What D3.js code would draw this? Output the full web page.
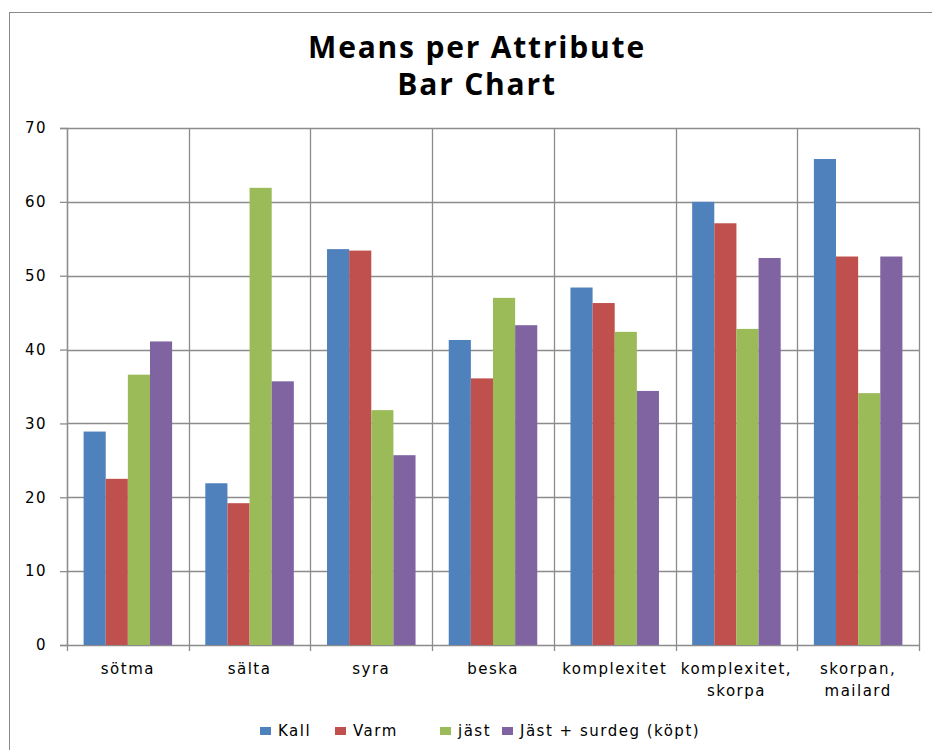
<!DOCTYPE html>
<html>
<head>
<meta charset="utf-8">
<script src="https://cdn.jsdelivr.net/npm/d3@7"></script>
<style>
  html, body { margin: 0; padding: 0; background: #fff; }
  svg { display: block; }
</style>
</head>
<body>
<div id="chart"></div>
<script>
// Attribute categories (x axis); "\n" splits a label over two lines
const categories = ["sötma", "sälta", "syra", "beska", "komplexitet", "komplexitet,\nskorpa", "skorpan,\nmailard"];
// Series names
const seriesNames = ["Kall", "Varm", "jäst", "Jäst + surdeg (köpt)"];
// Mean values per series, one entry per category
const kall  = [28.9, 21.9, 53.6, 41.3, 48.4, 60.0, 65.8];
const varm  = [22.5, 19.2, 53.4, 36.1, 46.3, 57.1, 52.6];
const jast  = [36.6, 61.9, 31.8, 47.0, 42.4, 42.8, 34.1];
const surdeg = [41.1, 35.7, 25.7, 43.3, 34.4, 52.4, 52.6];
const seriesValues = [kall, varm, jast, surdeg];
const seriesColors = ["#4F81BD", "#C0504D", "#9BBB59", "#8064A2"];
// Y axis ticks
const yTicks = [0, 10, 20, 30, 40, 50, 60, 70];
const titleLines = ["Means per Attribute", "Bar Chart"];

const W = 932, H = 750;
const plot = { left: 67, right: 919, top: 128, bottom: 645 };
const labelFont = "'DejaVu Sans', Verdana, sans-serif";

const svg = d3.select("#chart").append("svg")
  .attr("width", W).attr("height", H);

// Chart frame
svg.append("rect")
  .attr("x", 9.5).attr("y", 12.5)
  .attr("width", W + 20).attr("height", H + 20)
  .attr("fill", "#fff").attr("stroke", "#8a8a8a").attr("stroke-width", 1);

// Title, two lines
svg.append("g").selectAll("text").data(titleLines).join("text")
  .attr("x", 477).attr("y", (d, i) => 58 + i * 37)
  .attr("text-anchor", "middle")
  .attr("font-family", "'Open Sans', 'Noto Sans', sans-serif")
  .attr("font-weight", "bold")
  .attr("font-size", 30)
  .attr("letter-spacing", 1.8)
  .attr("fill", "#000")
  .text(d => d);

const x0 = d3.scaleBand().domain(categories).range([plot.left, plot.right]).padding(0);
// bars take 4 of 5.5 bar-widths of each category slot (gap width 150%)
const gapFrac = 1.5 / 5.5;
const x1 = d3.scaleBand().domain(d3.range(seriesNames.length))
  .range([x0.bandwidth() * gapFrac / 2, x0.bandwidth() * (1 - gapFrac / 2)]).padding(0);
const y = d3.scaleLinear().domain([0, 70]).range([plot.bottom, plot.top]);

const gridColor = "#8c8c8c";

// Horizontal gridlines
svg.append("g").selectAll("line").data(yTicks).join("line")
  .attr("x1", plot.left).attr("x2", plot.right)
  .attr("y1", d => Math.round(y(d)) + 0.5).attr("y2", d => Math.round(y(d)) + 0.5)
  .attr("stroke", gridColor).attr("stroke-width", 1.3);

// Vertical category separators
const bounds = categories.map(c => x0(c)).concat([plot.right]);
svg.append("g").selectAll("line").data(bounds).join("line")
  .attr("x1", d => Math.round(d) + 0.5).attr("x2", d => Math.round(d) + 0.5)
  .attr("y1", plot.top).attr("y2", plot.bottom + 6)
  .attr("stroke", gridColor).attr("stroke-width", 1.3);

// Bars
const groups = svg.append("g").selectAll("g").data(categories).join("g")
  .attr("transform", c => `translate(${x0(c)},0)`);
groups.selectAll("rect")
  .data((c, ci) => seriesValues.map((vals, si) => ({ si, v: vals[ci] })))
  .join("rect")
  .attr("x", d => x1(d.si))
  .attr("width", x1.bandwidth())
  .attr("y", d => y(d.v))
  .attr("height", d => y(0) - y(d.v))
  .attr("fill", d => seriesColors[d.si]);

// Y axis
const yAxis = d3.axisLeft(y).tickValues(yTicks).tickSize(7).tickPadding(13);
const yg = svg.append("g").attr("transform", `translate(${plot.left},0)`).call(yAxis);
yg.select(".domain").attr("stroke", gridColor).attr("stroke-width", 1.3);
yg.selectAll(".tick line").attr("stroke", gridColor).attr("stroke-width", 1.3);
yg.selectAll(".tick text")
  .attr("font-family", labelFont)
  .attr("font-size", 15).attr("letter-spacing", 1.5).attr("fill", "#000");

// X axis labels
const xAxis = d3.axisBottom(x0).tickSize(0).tickPadding(0);
const xg = svg.append("g").attr("transform", `translate(0,${plot.bottom})`).call(xAxis);
xg.select(".domain").remove();
xg.selectAll(".tick text")
  .attr("font-family", labelFont)
  .attr("font-size", 15).attr("letter-spacing", 1.5).attr("fill", "#000")
  .attr("y", 0).attr("dy", null)
  .each(function(d) {
    const t = d3.select(this);
    t.text(null);
    d.split("\n").forEach((line, i) => {
      t.append("tspan").attr("x", 0).attr("y", 29 + i * 22).text(line);
    });
  });

// Legend
const legendX = [260, 335, 440, 502];
const legend = svg.append("g").selectAll("g").data(seriesNames).join("g")
  .attr("transform", (d, i) => `translate(${legendX[i]},727)`);
legend.append("rect").attr("width", 11).attr("height", 8)
  .attr("fill", (d, i) => seriesColors[i]);
legend.append("text").attr("x", 18).attr("y", 9)
  .attr("font-family", labelFont)
  .attr("font-size", 15).attr("letter-spacing", 1.5).attr("fill", "#000")
  .text(d => d);
</script>
</body>
</html>
